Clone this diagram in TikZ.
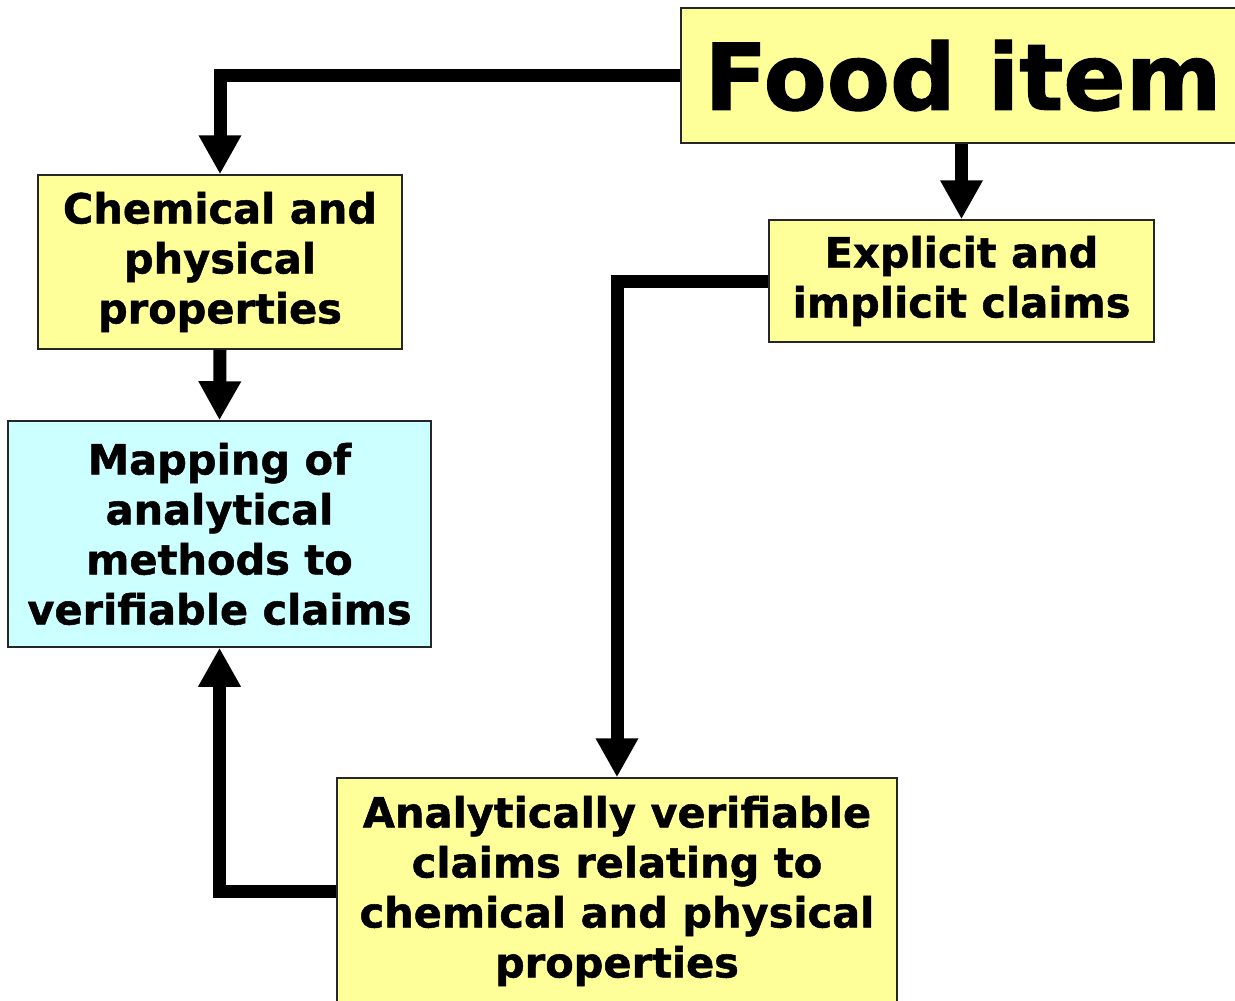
\documentclass[tikz,border=0pt]{standalone}
\usepackage{fontspec}
\setmainfont{DejaVu Sans}[BoldFeatures={FakeBold=1.2}]
\usetikzlibrary{arrows.meta}
\definecolor{paleyellow}{HTML}{FFFF99}
\definecolor{palecyan}{HTML}{CCFFFF}
\begin{document}
\begin{tikzpicture}[x=1pt,y=-1pt,
    box/.style={draw=black!85, line width=1.5pt, fill=paleyellow, align=center,
        inner sep=0pt, font=\bfseries\fontsize{41.5}{50}\selectfont},
    link/.style={line width=13pt, line join=miter,
        -{Triangle[width=40pt,length=39pt]}}]
            \useasboundingbox (0,0) rectangle (1235,1001);
            \clip (0,0) rectangle (1235,1001);

            \coordinate (Fp) at (963,75.5);
            \coordinate (Cp) at (220,262);
            \coordinate (Mp) at (219.5,534);
            \coordinate (Ep) at (961.5,281);
            \coordinate (Ap) at (617,891);

            \node[box, minimum width=564pt, minimum height=135pt,
                font=\bfseries\fontsize{92}{100}\selectfont] (F) at (Fp) {Food item};
            \node[box, minimum width=364pt, minimum height=174pt] (C) at (Cp)
                {Chemical and\\physical\\properties};
            \node[box, fill=palecyan, minimum width=423pt, minimum height=226pt] (M) at (Mp)
                {Mapping of\\analytical\\methods to\\verifiable claims};
            \node[box, minimum width=385pt, minimum height=122pt] (E) at (Ep)
                {Explicit and\\implicit claims};
            \node[box, minimum width=560pt, minimum height=226pt] (A) at (Ap)
                {Analytically verifiable\\claims relating to\\chemical and physical\\properties};

            \draw[link] (F.west) -| (C.north);
            \draw[link] (F.south -| E.north) -- (E.north);
            \draw[link] (E.west) -| (A.north);
            \draw[link] (C.south) -- (M.north);
            \draw[link] (A.west) -| (M.south);

        \end{tikzpicture}
\end{document}
